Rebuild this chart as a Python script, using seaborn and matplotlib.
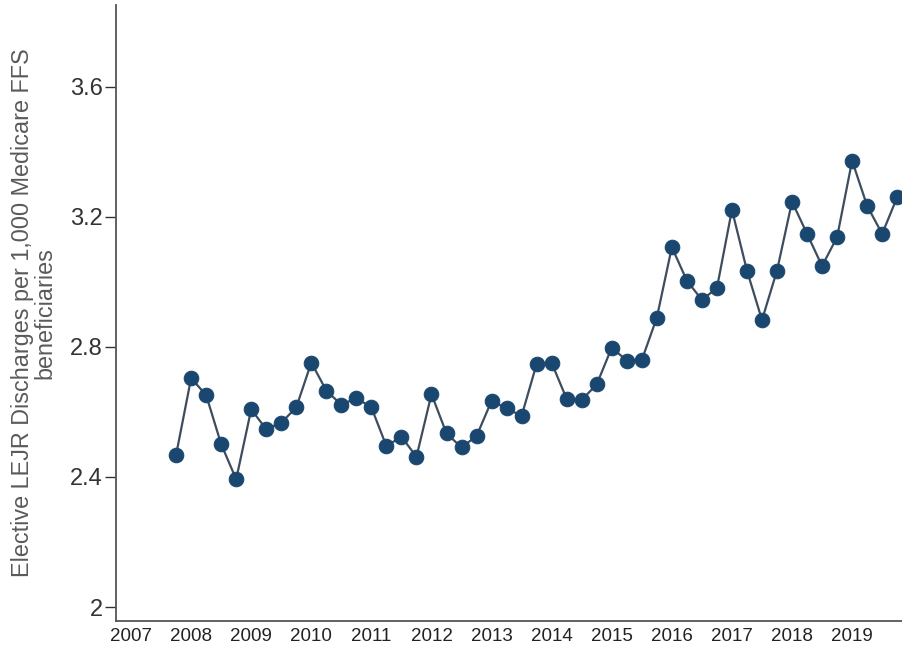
import pandas as pd
import matplotlib
matplotlib.use("Agg")
import matplotlib.pyplot as plt
import seaborn as sns

# quarterly series, 2007Q4 .. 2019Q4
quarters = pd.period_range("2007Q4", "2019Q4", freq="Q")
discharges = [
    2.468, 2.704, 2.652, 2.501, 2.393, 2.608, 2.547, 2.567, 2.614, 2.752,
    2.666, 2.622, 2.643, 2.614, 2.495, 2.524, 2.462, 2.655, 2.534, 2.491,
    2.526, 2.634, 2.611, 2.588, 2.748, 2.751, 2.640, 2.637, 2.685, 2.798,
    2.758, 2.760, 2.890, 3.107, 3.004, 2.945, 2.981, 3.222, 3.035, 2.883,
    3.035, 3.247, 3.148, 3.049, 3.138, 3.373, 3.234, 3.148, 3.261,
]
year_ticks = list(range(2007, 2020))
y_ticks = [2, 2.4, 2.8, 3.2, 3.6]
y_label = "Elective LEJR Discharges per 1,000 Medicare FFS\nbeneficiaries"

df = pd.DataFrame({
    "time": [q.year + (q.quarter - 1) / 4 for q in quarters],
    "rate": discharges,
})

sns.set_style("white")
plt.rcParams["font.family"] = ["Liberation Sans", "DejaVu Sans"]

fig = plt.figure(figsize=(9.02, 6.51), dpi=100)
ax = fig.add_axes([116 / 902, 30 / 651, 786 / 902, 616 / 651])

sns.lineplot(data=df, x="time", y="rate", ax=ax, color="#3d4d5e", linewidth=1.6,
             marker="o", markersize=10.5, markerfacecolor="#1a476f",
             markeredgecolor="#1a476f", clip_on=True)

ax.set_xlim(2006.75, 2019.83)
ax.set_ylim(1.957, 3.852)
ax.set_xticks(year_ticks)
ax.set_xticklabels([str(y) for y in year_ticks], fontsize=13.5)
ax.set_yticks(y_ticks)
ax.set_yticklabels([f"{v:g}" for v in y_ticks], fontsize=17)
ax.tick_params(axis="y", direction="out", length=8, width=1, color="#333333",
               pad=1.5, left=True, labelcolor="#333333")
ax.tick_params(axis="x", length=0, pad=5, labelcolor="#222222")

ax.set_xlabel("")
ax.set_ylabel(y_label, fontsize=16.8, color="#5a5a5a", linespacing=0.92, labelpad=10)

for side in ["top", "right"]:
    ax.spines[side].set_visible(False)
for side in ["left", "bottom"]:
    ax.spines[side].set_color("#555555")
    ax.spines[side].set_linewidth(1.3)

fig.savefig("out.png", dpi=100)
